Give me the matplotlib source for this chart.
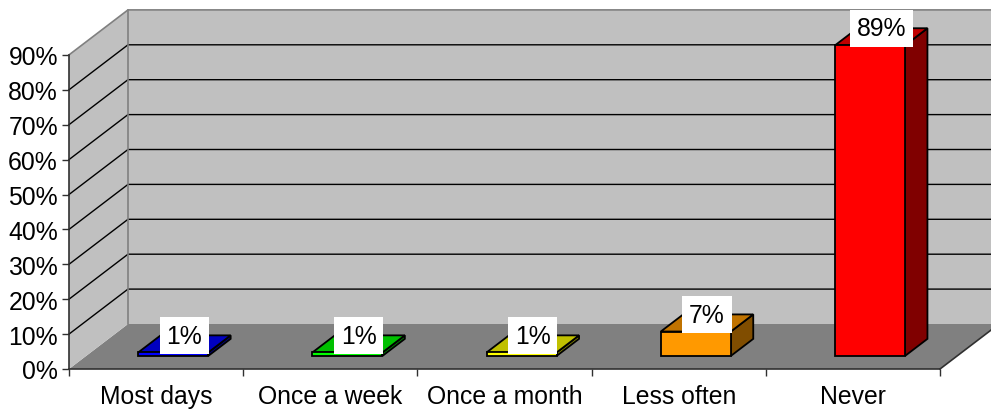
import matplotlib
matplotlib.use("Agg")
import matplotlib.pyplot as plt
from matplotlib.patches import Polygon

categories = ["Most days", "Once a week", "Once a month", "Less often", "Never"]
values = [1, 1, 1, 7, 89]
labels = ["1%", "1%", "1%", "7%", "89%"]
front_colors = ["#0000FF", "#00FF00", "#FFFF00", "#FF9900", "#FF0000"]
top_colors = ["#0000C0", "#00C000", "#C0C000", "#C07300", "#C00000"]
side_colors = ["#000080", "#008000", "#808000", "#804D00", "#800000"]
yticks = [0, 10, 20, 30, 40, 50, 60, 70, 80, 90]
ytick_labels = ["0%", "10%", "20%", "30%", "40%", "50%", "60%", "70%", "80%", "90%"]

plt.rcParams['font.family'] = ['Liberation Sans', 'DejaVu Sans']
FS = 17.8

W, H = 991, 414
fig = plt.figure(figsize=(W / 100, H / 100), dpi=100)
ax = fig.add_axes([0, 0, 1, 1])

# pixel geometry -> data units
x0px, catpx = 69, 174.2
y0px, pctpx = 370, 3.49
ax.set_xlim(-x0px / catpx, (W - x0px) / catpx)
ax.set_ylim(-(H - y0px) / pctpx, y0px / pctpx)

DX = 59 / catpx      # depth offset in category units
DY = 45 / pctpx      # depth offset in percent units
ncat = len(categories)
ymax = 90

def P(x, y, d):
    return (x + d * DX, y + d * DY)

# floor
ax.add_patch(Polygon([P(0, 0, 0), P(ncat, 0, 0), P(ncat, 0, 1), P(0, 0, 1)],
                     closed=True, fc="#808080", ec="none", zorder=1))
# side wall
ax.add_patch(Polygon([P(0, 0, 0), P(0, ymax, 0), P(0, ymax, 1), P(0, 0, 1)],
                     closed=True, fc="#C0C0C0", ec="none", zorder=1))
# back wall
ax.add_patch(Polygon([P(0, 0, 1), P(ncat, 0, 1), P(ncat, ymax, 1), P(0, ymax, 1)],
                     closed=True, fc="#C0C0C0", ec="none", zorder=1))
# gridlines
for v in yticks[1:-1]:
    a, b, c = P(0, v, 0), P(0, v, 1), P(ncat, v, 1)
    ax.plot([a[0], b[0], c[0]], [a[1], b[1], c[1]], color="black", lw=1.0, zorder=2)
# wall edges
a, b, c = P(0, ymax, 0), P(0, ymax, 1), P(ncat, ymax, 1)
ax.plot([a[0], b[0], c[0]], [a[1], b[1], c[1]], color="#808080", lw=1.2, zorder=2)
a, b = P(0, 0, 1), P(0, ymax, 1)
ax.plot([a[0], b[0]], [a[1], b[1]], color="#808080", lw=1.2, zorder=2)
a, b = P(ncat, 0, 0), P(ncat, 0, 1)
ax.plot([a[0], b[0]], [a[1], b[1]], color="#303030", lw=1.2, zorder=2)

# bars
bw = 0.402
f0, f1 = 0.29, 0.67
for i, v in enumerate(values):
    xl = i + 0.5 - bw / 2
    xr = i + 0.5 + bw / 2
    side = [P(xr, 0, f0), P(xr, v, f0), P(xr, v, f1), P(xr, 0, f1)]
    top = [P(xl, v, f0), P(xr, v, f0), P(xr, v, f1), P(xl, v, f1)]
    front = [P(xl, 0, f0), P(xr, 0, f0), P(xr, v, f0), P(xl, v, f0)]
    for poly, col in ((side, side_colors[i]), (top, top_colors[i]), (front, front_colors[i])):
        ax.add_patch(Polygon(poly, closed=True, fc=col, ec="black", lw=1.3,
                             joinstyle="miter", zorder=3))
    fm = (f0 + f1) / 2
    lx, ly = P(i + 0.5, v, fm)
    ax.annotate(labels[i], (lx, ly), xytext=(0, 6), textcoords="offset points",
                ha="center", va="center", fontsize=FS, zorder=5,
                bbox=dict(boxstyle="square,pad=0.27", fc="white", ec="none"))

# axes
for s in ("top", "right"):
    ax.spines[s].set_visible(False)
ax.spines["left"].set_position(("data", 0))
ax.spines["left"].set_bounds(0, ymax)
ax.spines["bottom"].set_position(("data", 0))
ax.spines["bottom"].set_bounds(0, ncat)
for s in ("left", "bottom"):
    ax.spines[s].set_color("#303030")
    ax.spines[s].set_linewidth(1.2)
    ax.spines[s].set_zorder(4)

ax.set_yticks(yticks)
ax.set_yticklabels(ytick_labels, fontsize=FS)
ax.tick_params(axis="y", direction="out", length=5, width=1.0, pad=3, color="#303030")
ax.set_xticks(range(ncat + 1))
ax.set_xticklabels([""] * (ncat + 1))
ax.set_xticks([i + 0.5 for i in range(ncat)], minor=True)
ax.set_xticklabels(categories, minor=True, fontsize=FS)
ax.tick_params(axis="x", which="major", direction="out", length=5, width=1.0, color="#303030")
ax.tick_params(axis="x", which="minor", length=0, pad=10.5)

fig.savefig("out.png", dpi=100)
